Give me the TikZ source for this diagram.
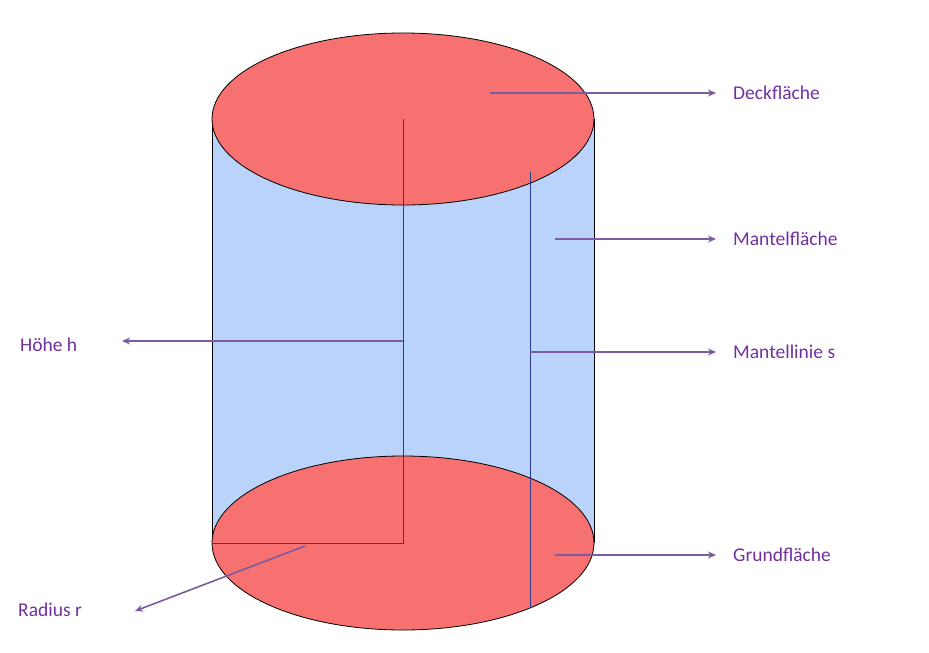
\documentclass[tikz,border=0pt]{standalone}
\usetikzlibrary{arrows.meta}
\usepackage{fontspec}
\setmainfont{Carlito}
\definecolor{sidec}{HTML}{B9D3FB}
\definecolor{capc}{HTML}{F87171}
\definecolor{linec}{HTML}{2E3D8F}
\definecolor{arr}{HTML}{7B5CA0}
\definecolor{txt}{HTML}{7030A0}
\begin{document}
\begin{tikzpicture}[x=1pt,y=-1pt,
  lbl/.style={text=txt,font=\fontsize{19.5}{22}\selectfont,inner sep=0pt},
  pointer/.style={draw=arr,line width=1.6pt,-{Stealth[length=8pt,width=7pt]}},
  guide/.style={draw=linec,line width=0.6pt}]
\useasboundingbox (0,0) rectangle (929,653);
\fill[sidec] (212,119) rectangle (594,543);
\draw[line width=0.6pt] (212,119) -- (212,543) (594,119) -- (594,543);
\filldraw[fill=capc,draw=black,line width=0.8pt] (403,543) ellipse [x radius=191,y radius=87];
\filldraw[fill=capc,draw=black,line width=0.8pt] (403,119) ellipse [x radius=191,y radius=86];
\coordinate (ctop) at (403,119);
\coordinate (cbot) at (403,543);
\coordinate (rim) at (212,543);
\draw[guide] (ctop) -- (cbot) -- (rim);
\coordinate (s1) at (530,172);
\coordinate (s2) at (530,608);
\draw[guide] (s1) -- (s2);
\node[lbl,anchor=west] (deck) at (733,93) {Deckfläche};
\node[lbl,anchor=west] (mantel) at (733,239) {Mantelfläche};
\node[lbl,anchor=west] (linie) at (733,352) {Mantellinie s};
\node[lbl,anchor=west] (grund) at (733,555) {Grundfläche};
\node[lbl,anchor=west] (hoehe) at (20,345) {Höhe h};
\node[lbl,anchor=west] (radius) at (18,610) {Radius r};
\coordinate (a1) at (490,93);
\coordinate (a2) at (555,239);
\coordinate (a3) at (530,352);
\coordinate (a4) at (555,555);
\coordinate (a5) at (403,341);
\coordinate (a6) at (305,546);
\draw[pointer] (a1) -- (716,93);
\draw[pointer] (a2) -- (716,239);
\draw[pointer] (a3) -- (716,352);
\draw[pointer] (a4) -- (716,555);
\draw[pointer] (a5) -- (122,341);
\draw[pointer] (a6) -- (135,611);
\end{tikzpicture}
\end{document}
